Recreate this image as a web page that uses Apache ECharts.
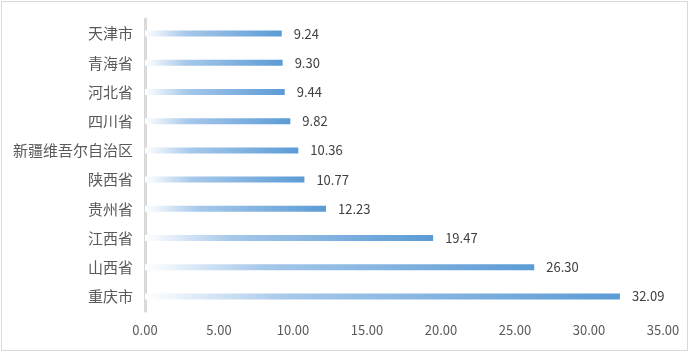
<!DOCTYPE html>
<html>
<head>
<meta charset="utf-8">
<script src="https://cdn.jsdelivr.net/npm/echarts@6/dist/echarts.min.js"></script>
<style>
    html, body { margin: 0; padding: 0; background: #fff; }
    #chart { position: absolute; left: 0; top: 0; width: 689px; height: 352px; }
    .frame { position: absolute; left: 1px; top: 1px; width: 685px; height: 348px; border: 1px solid #d9d9d9; pointer-events: none; }
</style>
</head>
<body>
<div id="chart"></div>
<div class="frame"></div>
<script>
// categories listed bottom to top (category axis starts at the bottom)
const provinces = ['重庆市', '山西省', '江西省', '贵州省', '陕西省', '新疆维吾尔自治区', '四川省', '河北省', '青海省', '天津市']
const values = [32.09, 26.3, 19.47, 12.23, 10.77, 10.36, 9.82, 9.44, 9.3, 9.24]

const font = "'Microsoft YaHei', 'Noto Sans CJK SC', sans-serif"

const chart = echarts.init(document.getElementById('chart'))

chart.setOption({
    animation: false,
    grid: { left: 145, right: 26, top: 19, bottom: 41, containLabel: false },
    xAxis: {
        type: 'value',
        min: 0,
        max: 35,
        interval: 5,
        axisLine: { show: false },
        axisTick: { show: false },
        splitLine: { show: false },
        axisLabel: {
            color: '#595959',
            fontSize: 13,
            fontFamily: font,
            margin: 13,
            formatter: (v) => v.toFixed(2),
        },
    },
    yAxis: {
        type: 'category',
        data: provinces,
        axisLine: { lineStyle: { color: '#d9d9d9', width: 3 } },
        axisTick: { show: false },
        axisLabel: { color: '#595959', fontSize: 15, fontFamily: font, margin: 12 },
    },
    series: [
        {
            type: 'bar',
            data: values,
            barWidth: 6,
            itemStyle: {
                color: new echarts.graphic.LinearGradient(0, 0, 1, 0, [
                    { offset: 0, color: '#ffffff' },
                    { offset: 0.3, color: '#a6c8ea' },
                    { offset: 1, color: '#5b9bd5' },
                ]),
            },
            label: {
                show: true,
                position: 'right',
                distance: 12,
                color: '#404040',
                fontSize: 13,
                fontFamily: font,
                formatter: (p) => p.value.toFixed(2),
            },
        },
    ],
})
</script>
</body>
</html>
